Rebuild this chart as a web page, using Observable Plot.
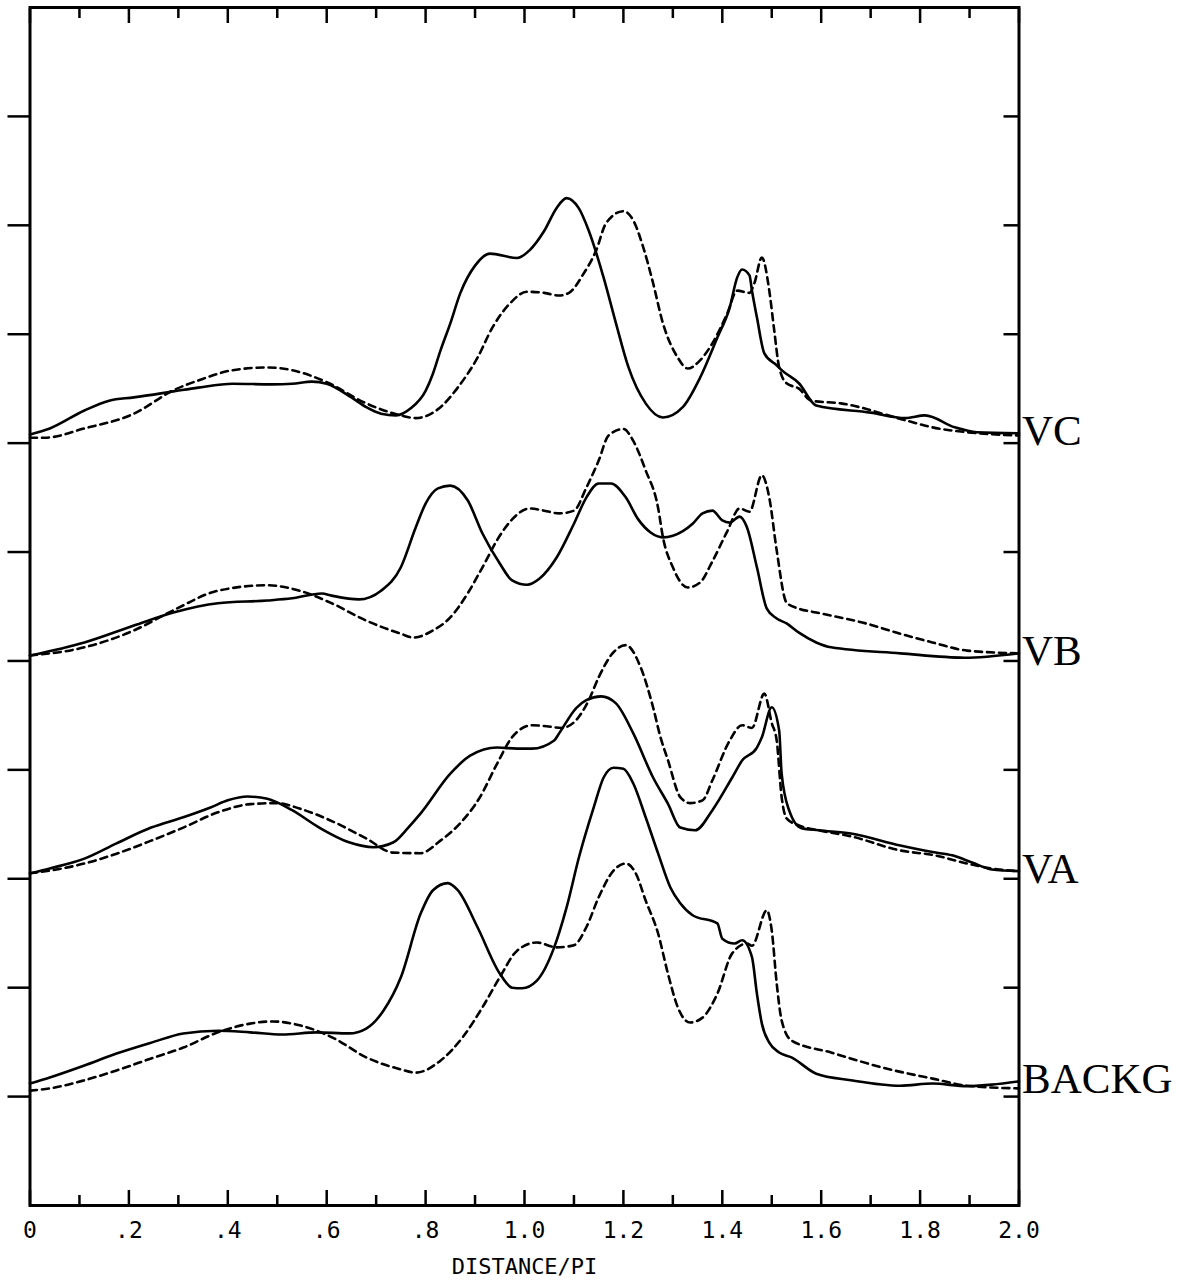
<!DOCTYPE html>
<html><head><meta charset="utf-8">
<script src="https://cdn.jsdelivr.net/npm/d3@7"></script>
<script src="https://cdn.jsdelivr.net/npm/@observablehq/plot@0.6"></script>
<style>body{margin:0;background:#fff}</style>
</head><body><div id="chart"></div>
<script>
// Series names and their vertical offsets (in y-axis tick units)
const names = ["VC", "VB", "VA", "BACKG"];
const offsets = [7, 5, 3, 1];

// x (distance / pi), height above the series baseline
const vcSolid = [[0,0.08],[0.04,0.135],[0.11,0.30],[0.16,0.39],[0.21,0.42],[0.29,0.475],[0.34,0.51],[0.41,0.545],[0.49,0.54],[0.53,0.545],[0.57,0.565],[0.60,0.545],[0.65,0.42],[0.68,0.33],[0.71,0.27],[0.74,0.255],[0.77,0.32],[0.80,0.48],[0.815,0.64],[0.83,0.85],[0.85,1.10],[0.87,1.375],[0.90,1.63],[0.93,1.74],[0.985,1.70],[1.01,1.77],[1.04,1.95],[1.065,2.16],[1.085,2.25],[1.11,2.155],[1.13,1.95],[1.16,1.52],[1.185,1.10],[1.21,0.70],[1.245,0.365],[1.28,0.235],[1.32,0.33],[1.355,0.60],[1.39,0.97],[1.415,1.245],[1.43,1.52],[1.44,1.595],[1.455,1.54],[1.46,1.40],[1.47,1.155],[1.485,0.825],[1.51,0.715],[1.52,0.67],[1.555,0.55],[1.59,0.345],[1.70,0.28],[1.77,0.23],[1.81,0.255],[1.87,0.145],[1.915,0.10],[2.0,0.09]];
const vcDashed = [[0,0.05],[0.03,0.05],[0.11,0.135],[0.21,0.27],[0.29,0.485],[0.34,0.575],[0.41,0.67],[0.48,0.695],[0.53,0.67],[0.60,0.56],[0.68,0.365],[0.75,0.255],[0.78,0.23],[0.83,0.33],[0.865,0.51],[0.905,0.785],[0.935,1.06],[0.97,1.28],[1.005,1.39],[1.04,1.38],[1.07,1.355],[1.09,1.38],[1.12,1.56],[1.145,1.77],[1.165,2.02],[1.20,2.13],[1.22,2.045],[1.24,1.80],[1.26,1.47],[1.28,1.10],[1.31,0.785],[1.33,0.685],[1.355,0.76],[1.375,0.88],[1.41,1.19],[1.43,1.40],[1.455,1.38],[1.465,1.47],[1.48,1.705],[1.495,1.40],[1.505,1.035],[1.515,0.695],[1.53,0.55],[1.555,0.50],[1.58,0.39],[1.64,0.365],[1.77,0.21],[1.825,0.145],[1.895,0.10],[2.0,0.07]];

const vbSolid = [[0,0.05],[0.11,0.17],[0.21,0.325],[0.29,0.445],[0.38,0.53],[0.48,0.555],[0.53,0.575],[0.59,0.62],[0.61,0.60],[0.665,0.565],[0.71,0.645],[0.75,0.86],[0.78,1.225],[0.80,1.445],[0.825,1.585],[0.85,1.61],[0.885,1.475],[0.915,1.17],[0.95,0.895],[0.975,0.74],[1.005,0.70],[1.03,0.755],[1.065,0.95],[1.10,1.26],[1.125,1.50],[1.15,1.63],[1.175,1.63],[1.205,1.50],[1.23,1.30],[1.255,1.18],[1.28,1.135],[1.30,1.15],[1.34,1.26],[1.36,1.355],[1.38,1.38],[1.40,1.29],[1.415,1.27],[1.435,1.325],[1.45,1.225],[1.47,0.86],[1.49,0.48],[1.51,0.39],[1.53,0.345],[1.555,0.26],[1.59,0.17],[1.62,0.125],[1.76,0.07],[1.89,0.03],[2.0,0.07]];
const vbDashed = [[0,0.05],[0.11,0.125],[0.21,0.28],[0.29,0.465],[0.38,0.645],[0.48,0.695],[0.545,0.645],[0.61,0.53],[0.68,0.37],[0.75,0.25],[0.775,0.215],[0.815,0.28],[0.85,0.40],[0.885,0.62],[0.915,0.86],[0.95,1.15],[0.975,1.30],[1.01,1.40],[1.04,1.38],[1.07,1.355],[1.10,1.38],[1.125,1.59],[1.15,1.84],[1.17,2.07],[1.20,2.13],[1.22,2.02],[1.245,1.75],[1.27,1.41],[1.28,1.135],[1.30,0.86],[1.33,0.675],[1.355,0.72],[1.38,0.915],[1.41,1.19],[1.435,1.40],[1.455,1.37],[1.48,1.705],[1.495,1.50],[1.51,1.015],[1.53,0.535],[1.555,0.48],[1.59,0.445],[1.69,0.345],[1.76,0.25],[1.825,0.17],[1.895,0.095],[2.0,0.07]];

const vaSolid = [[0,0.05],[0.04,0.095],[0.11,0.185],[0.175,0.325],[0.245,0.47],[0.31,0.565],[0.365,0.655],[0.40,0.72],[0.44,0.755],[0.48,0.735],[0.53,0.63],[0.585,0.47],[0.645,0.335],[0.695,0.29],[0.735,0.335],[0.765,0.47],[0.79,0.60],[0.85,0.965],[0.89,1.13],[0.945,1.205],[0.985,1.195],[1.015,1.195],[1.06,1.27],[1.07,1.335],[1.105,1.57],[1.125,1.64],[1.155,1.675],[1.185,1.61],[1.22,1.335],[1.26,0.93],[1.29,0.69],[1.315,0.47],[1.345,0.445],[1.38,0.63],[1.42,0.93],[1.44,1.085],[1.47,1.205],[1.48,1.30],[1.50,1.575],[1.515,1.36],[1.52,0.965],[1.535,0.63],[1.56,0.465],[1.595,0.445],[1.66,0.415],[1.76,0.305],[1.825,0.245],[1.865,0.215],[1.905,0.15],[1.945,0.085],[2.0,0.07]];
const vaDashed = [[0,0.05],[0.04,0.075],[0.11,0.14],[0.175,0.23],[0.245,0.35],[0.31,0.47],[0.38,0.61],[0.445,0.685],[0.50,0.695],[0.545,0.645],[0.615,0.52],[0.68,0.37],[0.735,0.24],[0.79,0.235],[0.83,0.35],[0.87,0.51],[0.91,0.75],[0.945,1.06],[0.975,1.30],[1.015,1.41],[1.045,1.40],[1.075,1.385],[1.105,1.46],[1.13,1.64],[1.15,1.85],[1.18,2.08],[1.205,2.145],[1.235,1.94],[1.26,1.575],[1.275,1.30],[1.29,1.09],[1.315,0.75],[1.335,0.695],[1.36,0.72],[1.38,0.905],[1.415,1.27],[1.44,1.41],[1.46,1.385],[1.485,1.70],[1.50,1.43],[1.51,1.27],[1.52,0.75],[1.53,0.555],[1.555,0.49],[1.595,0.445],[1.66,0.39],[1.76,0.26],[1.83,0.215],[1.895,0.14],[1.96,0.085],[2.0,0.07]];

const bgSolid = [[0,0.12],[0.04,0.175],[0.11,0.285],[0.175,0.395],[0.245,0.495],[0.31,0.58],[0.38,0.605],[0.445,0.59],[0.51,0.57],[0.58,0.59],[0.645,0.58],[0.68,0.625],[0.715,0.79],[0.75,1.095],[0.79,1.68],[0.815,1.895],[0.845,1.96],[0.865,1.895],[0.905,1.555],[0.95,1.13],[0.975,1.00],[0.995,0.995],[1.025,1.065],[1.06,1.37],[1.085,1.735],[1.11,2.195],[1.14,2.655],[1.16,2.93],[1.18,3.02],[1.20,3.01],[1.22,2.875],[1.245,2.565],[1.27,2.235],[1.295,1.92],[1.315,1.775],[1.34,1.665],[1.39,1.59],[1.40,1.45],[1.425,1.405],[1.44,1.435],[1.46,1.28],[1.47,0.945],[1.48,0.67],[1.495,0.495],[1.515,0.405],[1.54,0.36],[1.59,0.21],[1.66,0.15],[1.76,0.10],[1.825,0.12],[1.895,0.095],[1.945,0.11],[2.0,0.14]];
const bgDashed = [[0,0.055],[0.04,0.075],[0.11,0.15],[0.175,0.24],[0.245,0.35],[0.31,0.45],[0.38,0.59],[0.445,0.67],[0.49,0.69],[0.545,0.655],[0.615,0.535],[0.68,0.36],[0.75,0.25],[0.78,0.22],[0.83,0.33],[0.875,0.545],[0.915,0.82],[0.95,1.095],[0.985,1.34],[1.025,1.415],[1.065,1.37],[1.10,1.39],[1.125,1.555],[1.15,1.83],[1.18,2.075],[1.205,2.14],[1.225,2.05],[1.245,1.80],[1.27,1.50],[1.29,1.13],[1.31,0.82],[1.335,0.68],[1.36,0.725],[1.39,0.945],[1.42,1.315],[1.45,1.405],[1.46,1.385],[1.49,1.71],[1.50,1.525],[1.51,1.04],[1.52,0.70],[1.54,0.515],[1.62,0.405],[1.725,0.265],[1.825,0.165],[1.895,0.10],[2.0,0.075]];

const solids = [vcSolid, vbSolid, vaSolid, bgSolid];
const dasheds = [vcDashed, vbDashed, vaDashed, bgDashed];

// Tick positions
const xMajor = [0, 0.2, 0.4, 0.6, 0.8, 1.0, 1.2, 1.4, 1.6, 1.8, 2.0];
const xMinor = [0.1, 0.3, 0.5, 0.7, 0.9, 1.1, 1.3, 1.5, 1.7, 1.9];
const yTicks = [1, 2, 3, 4, 5, 6, 7, 8, 9, 10];
const xTitle = "DISTANCE/PI";

const toRows = (arrs) => arrs.flatMap((pts, i) => pts.map(([x, v]) => ({name: names[i], x, y: offsets[i] + v})));
const solidRows = toRows(solids);
const dashedRows = toRows(dasheds);
const labelRows = names.map((n, i) => {const last = solids[i][solids[i].length - 1]; return {name: n, x: last[0], y: offsets[i] + last[1]};});

const fmt = d => d === 0 ? "0" : d < 1 ? d.toFixed(1).slice(1) : d.toFixed(1);
const mono = "DejaVu Sans Mono";

const chart = Plot.plot({
  width: 1191,
  height: 1284,
  marginLeft: 29.5,
  marginRight: 172.5,
  marginTop: 7,
  marginBottom: 79,
  style: {background: "#fff", color: "#000"},
  x: {domain: [0, 2], label: null},
  y: {domain: [0, 11], label: null},
  marks: [
    Plot.axisX(xMajor, {anchor: "bottom", tickSize: -15, strokeWidth: 2.5, tickFormat: () => "", label: null}),
    Plot.axisX(xMinor, {anchor: "bottom", tickSize: -10, strokeWidth: 2.5, tickFormat: () => "", label: null}),
    Plot.axisX(xMajor, {anchor: "top", tickSize: -15, strokeWidth: 2.5, tickFormat: () => "", label: null}),
    Plot.axisX(xMinor, {anchor: "top", tickSize: -10, strokeWidth: 2.5, tickFormat: () => "", label: null}),
    Plot.axisY(yTicks, {anchor: "left", tickSize: 22, strokeWidth: 2.5, tickFormat: () => "", label: null}),
    Plot.axisY(yTicks, {anchor: "right", tickSize: -16, strokeWidth: 2.5, tickFormat: () => "", label: null}),
    Plot.axisX(xMajor, {anchor: "bottom", tickSize: 0, tickPadding: 16, tickFormat: fmt, fontSize: 23, fontFamily: mono, label: null}),
    Plot.text([xTitle], {frameAnchor: "bottom", dy: 68, fontSize: 22, fontFamily: mono, fill: "#000"}),
    Plot.frame({stroke: "#000", strokeWidth: 3}),
    Plot.line(dashedRows, {x: "x", y: "y", z: "name", stroke: "#000", strokeWidth: 2.6, strokeDasharray: "7,5", curve: "monotone-x"}),
    Plot.line(solidRows, {x: "x", y: "y", z: "name", stroke: "#000", strokeWidth: 2.6, curve: "monotone-x"}),
    Plot.text(labelRows, {x: "x", y: "y", text: "name", textAnchor: "start", dx: 3, dy: -2, fontSize: 43, fontFamily: "Liberation Serif", fill: "#000"})
  ]
});
document.getElementById("chart").appendChild(chart);
</script></body></html>
